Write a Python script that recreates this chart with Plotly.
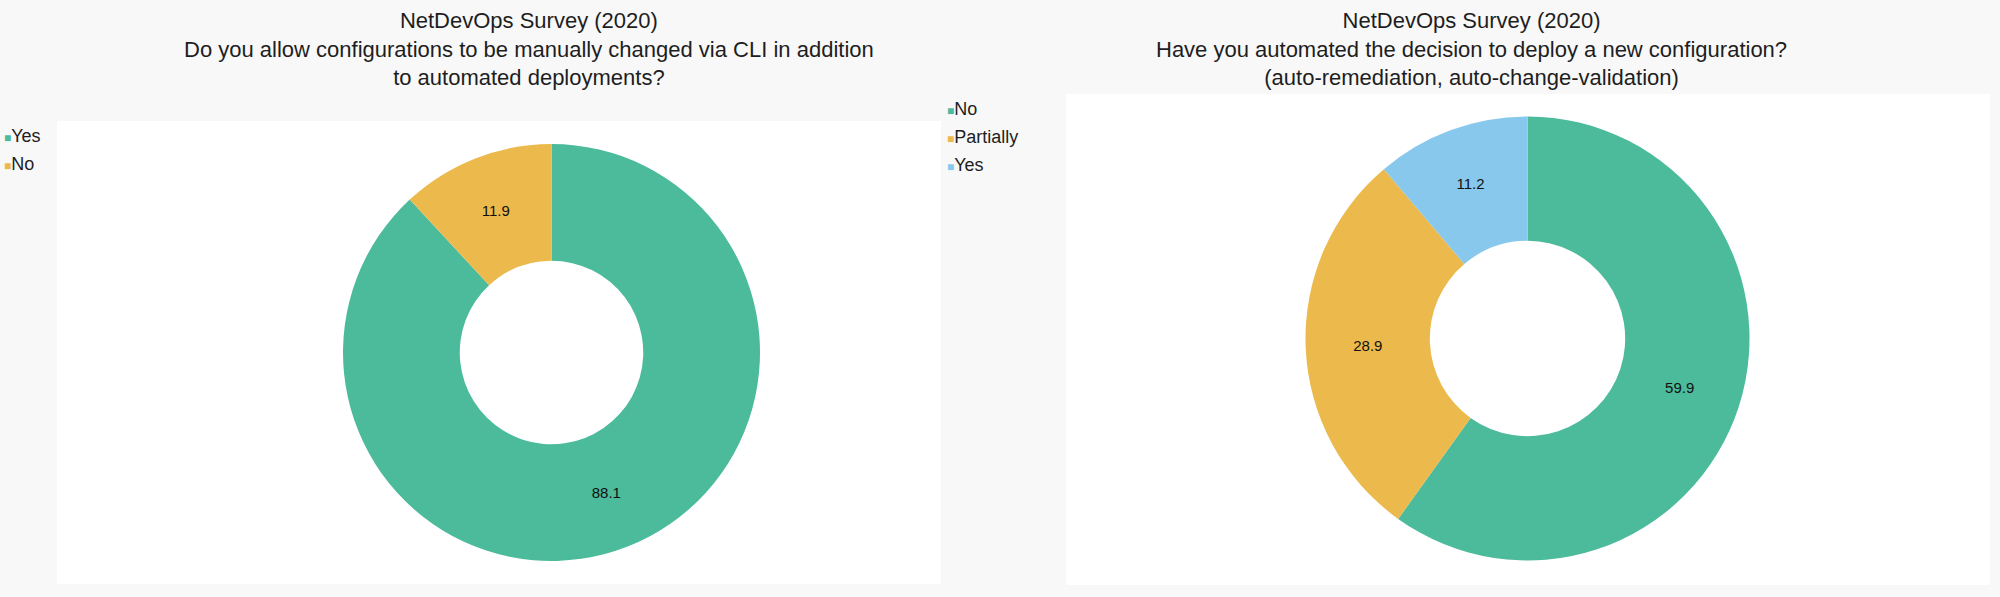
import plotly.graph_objects as go

W, H = 2000, 597

# ---- data ----
left_title_lines = [
    "NetDevOps Survey (2020)",
    "Do you allow configurations to be manually changed via CLI in addition",
    "to automated deployments?",
]
left_labels = ["Yes", "No"]
left_values = [88.1, 11.9]
left_colors = ["#4CBB9B", "#ECB94C"]

right_title_lines = [
    "NetDevOps Survey (2020)",
    "Have you automated the decision to deploy a new configuration?",
    "(auto-remediation, auto-change-validation)",
]
right_labels = ["No", "Partially", "Yes"]
right_values = [59.9, 28.9, 11.2]
right_colors = ["#4CBB9B", "#ECB94C", "#89C8ED"]

FONT = "Liberation Sans, Arial, Helvetica, sans-serif"
TEXT_COLOR = "#1e1e1e"


def px(x):
    return x / W


def py(y):
    return 1 - y / H


def domain(cx, cy, r):
    return dict(x=[px(cx - r), px(cx + r)], y=[py(cy + r), py(cy - r)])


fig = go.Figure()

fig.add_trace(go.Pie(
    labels=left_labels, values=left_values,
    marker=dict(colors=left_colors, line=dict(width=0)),
    hole=0.44, sort=False, direction="clockwise", rotation=0,
    textinfo="value", textposition="inside", insidetextorientation="horizontal",
    textfont=dict(family=FONT, size=15, color="#111"),
    domain=domain(551.5, 352.5, 208.5), showlegend=False,
))
fig.add_trace(go.Pie(
    labels=right_labels, values=right_values,
    marker=dict(colors=right_colors, line=dict(width=0)),
    hole=0.44, sort=False, direction="clockwise", rotation=0,
    textinfo="value", textposition="inside", insidetextorientation="horizontal",
    textfont=dict(family=FONT, size=15, color="#111"),
    domain=domain(1527.5, 338.5, 222), showlegend=False,
))

shapes = [
    dict(type="rect", xref="paper", yref="paper", x0=px(57), x1=px(941), y0=py(584), y1=py(121),
         fillcolor="white", line=dict(width=0), layer="below"),
    dict(type="rect", xref="paper", yref="paper", x0=px(1066), x1=px(1990), y0=py(585), y1=py(94),
         fillcolor="white", line=dict(width=0), layer="below"),
]

annotations = [
    dict(text="<br>".join(left_title_lines), x=px(529), y=py(49), xref="paper", yref="paper",
         xanchor="center", yanchor="middle", showarrow=False, align="center",
         font=dict(family=FONT, size=22, color=TEXT_COLOR)),
    dict(text="<br>".join(right_title_lines), x=px(1471), y=py(49), xref="paper", yref="paper",
         xanchor="center", yanchor="middle", showarrow=False, align="center",
         font=dict(family=FONT, size=22, color=TEXT_COLOR)),
]


def legend(labels, colors, x0, y0, step):
    out = []
    for i, (lab, col) in enumerate(zip(labels, colors)):
        out.append(dict(
            text=f"<span style='font-size:12px;color:{col}'>■</span>{lab}",
            x=px(x0), y=py(y0 + i * step), xref="paper", yref="paper",
            xanchor="left", yanchor="middle", showarrow=False,
            font=dict(family=FONT, size=18, color=TEXT_COLOR),
        ))
    return out


annotations += legend(left_labels, left_colors, 2, 136, 27.5)
annotations += legend(right_labels, right_colors, 945, 109, 28)

fig.update_layout(
    width=W, height=H,
    margin=dict(l=0, r=0, t=0, b=0),
    paper_bgcolor="#F8F8F8", plot_bgcolor="#F8F8F8",
    shapes=shapes, annotations=annotations,
    showlegend=False,
)

fig.write_html(
    "out.html",
    config={"displayModeBar": False},
    post_script="document.body.style.margin='0';document.body.style.background='#F8F8F8';",
)
